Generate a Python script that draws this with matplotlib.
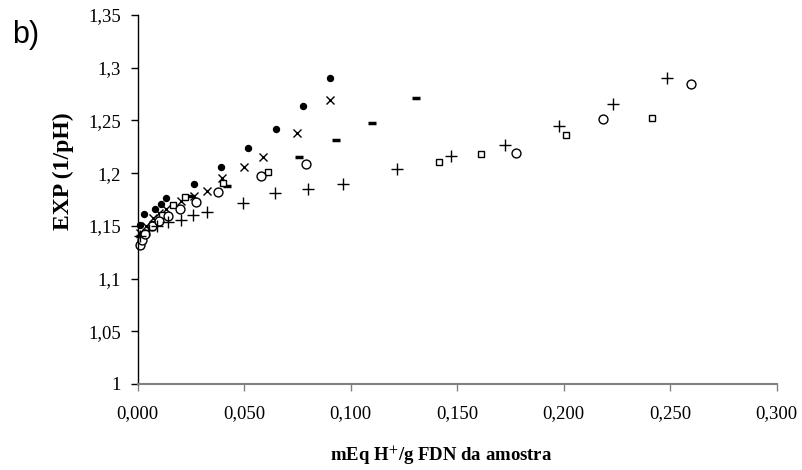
import matplotlib
matplotlib.use("Agg")
import matplotlib.pyplot as plt
from matplotlib.ticker import FuncFormatter, FixedLocator

# Data
dots_x = [0.001, 0.003, 0.0082, 0.0108, 0.0133, 0.0264, 0.0391, 0.0518, 0.065, 0.0777, 0.0903]
dots_y = [1.151, 1.161, 1.166, 1.171, 1.176, 1.190, 1.206, 1.224, 1.242, 1.264, 1.290]

cross_x = [0.001, 0.0041, 0.0072, 0.0102, 0.0133, 0.0204, 0.0264, 0.0325, 0.0396, 0.0498, 0.0589, 0.0746, 0.0903]
cross_y = [1.143, 1.150, 1.157, 1.162, 1.166, 1.174, 1.178, 1.183, 1.195, 1.206, 1.215, 1.238, 1.269]

dash_x = [0.001, 0.0072, 0.0133, 0.0244, 0.0417, 0.0589, 0.0759, 0.0930, 0.1102, 0.1305]
dash_y = [1.140, 1.150, 1.160, 1.178, 1.188, 1.199, 1.215, 1.231, 1.248, 1.271]

square_x = [0.001, 0.003, 0.0072, 0.0112, 0.0167, 0.0222, 0.0402, 0.0610, 0.1413, 0.1612, 0.2013, 0.2416]
square_y = [1.132, 1.142, 1.152, 1.160, 1.170, 1.177, 1.191, 1.201, 1.211, 1.218, 1.236, 1.252]

circle_x = [0.001, 0.0021, 0.0034, 0.0066, 0.0101, 0.0144, 0.0199, 0.0275, 0.0376, 0.0579, 0.0789, 0.1774, 0.2185, 0.2598]
circle_y = [1.132, 1.137, 1.142, 1.150, 1.1545, 1.159, 1.166, 1.1725, 1.182, 1.1977, 1.209, 1.2195, 1.2514, 1.2845]

plus_x = [0.001, 0.0052, 0.0092, 0.0141, 0.0202, 0.0261, 0.0327, 0.0493, 0.0645, 0.0801, 0.0964, 0.1216, 0.1471, 0.1726, 0.1978, 0.2233, 0.2485]
plus_y = [1.140, 1.146, 1.150, 1.1535, 1.156, 1.160, 1.163, 1.172, 1.1807, 1.185, 1.190, 1.204, 1.216, 1.227, 1.2444, 1.266, 1.2898]

x_ticks = [0.0, 0.05, 0.10, 0.15, 0.20, 0.25, 0.30]
y_ticks = [1.0, 1.05, 1.10, 1.15, 1.20, 1.25, 1.30, 1.35]

plt.rcParams['mathtext.fontset'] = 'stix'

fig = plt.figure(figsize=(8.02, 4.70), dpi=100)
ax = fig.add_axes([137.7/802, 1 - 384/470, 639/802, 369/470])

ax.plot(dots_x, dots_y, linestyle='none', marker='o', markersize=4.3, color='black', clip_on=False)
ax.plot(cross_x, cross_y, linestyle='none', marker='x', markersize=5.3, mew=1.0, color='black', clip_on=False)
ax.plot(dash_x, dash_y, linestyle='none', marker='_', markersize=6, mew=2.5, color='black', clip_on=False)
ax.plot(square_x, square_y, linestyle='none', marker='s', markersize=4.2, mew=1.0,
        markerfacecolor='white', markeredgecolor='black', clip_on=False)
ax.plot(circle_x, circle_y, linestyle='none', marker='o', markersize=6.4, mew=1.0,
        markerfacecolor='white', markeredgecolor='black', clip_on=False)
ax.plot(plus_x, plus_y, linestyle='none', marker='+', markersize=8.5, mew=1.0, color='black', clip_on=False)

ax.set_xlim(0, 0.30)
ax.set_ylim(1.0, 1.35)
ax.xaxis.set_major_locator(FixedLocator(x_ticks))
ax.yaxis.set_major_locator(FixedLocator(y_ticks))
ax.xaxis.set_major_formatter(FuncFormatter(lambda v, p: f"{v:.3f}".replace('.', ',')))
ax.yaxis.set_major_formatter(FuncFormatter(lambda v, p: f"{round(v, 2):g}".replace('.', ',')))

for side in ['top', 'right']:
    ax.spines[side].set_visible(False)
ax.spines['left'].set_color('black')
ax.spines['left'].set_linewidth(1.0)
ax.spines['bottom'].set_color('#808080')
ax.spines['bottom'].set_linewidth(1.5)

ax.tick_params(axis='y', direction='out', length=5, width=1.0, colors='black', pad=7)
ax.tick_params(axis='x', direction='out', length=5, width=1.0, color='#808080', labelcolor='black', pad=10)
for lab in ax.get_xticklabels() + ax.get_yticklabels():
    lab.set_fontfamily('Liberation Serif')
    lab.set_fontsize(13.5)

fig.text(63/802, 1 - 171/470, 'EXP (1/pH)', rotation=90, ha='center', va='center',
         fontfamily='Liberation Serif', fontweight='bold', fontsize=17)
fig.text(441/802, 1 - 455/470, 'mEq H$^{+}$/g FDN da amostra', ha='center', va='center',
         fontfamily='Liberation Serif', fontweight='bold', fontsize=13.5)

fig.text(12/802, 1 - 35/470, 'b)', ha='left', va='center', fontfamily='Liberation Sans', fontsize=22)

fig.savefig('out.png', dpi=100)
